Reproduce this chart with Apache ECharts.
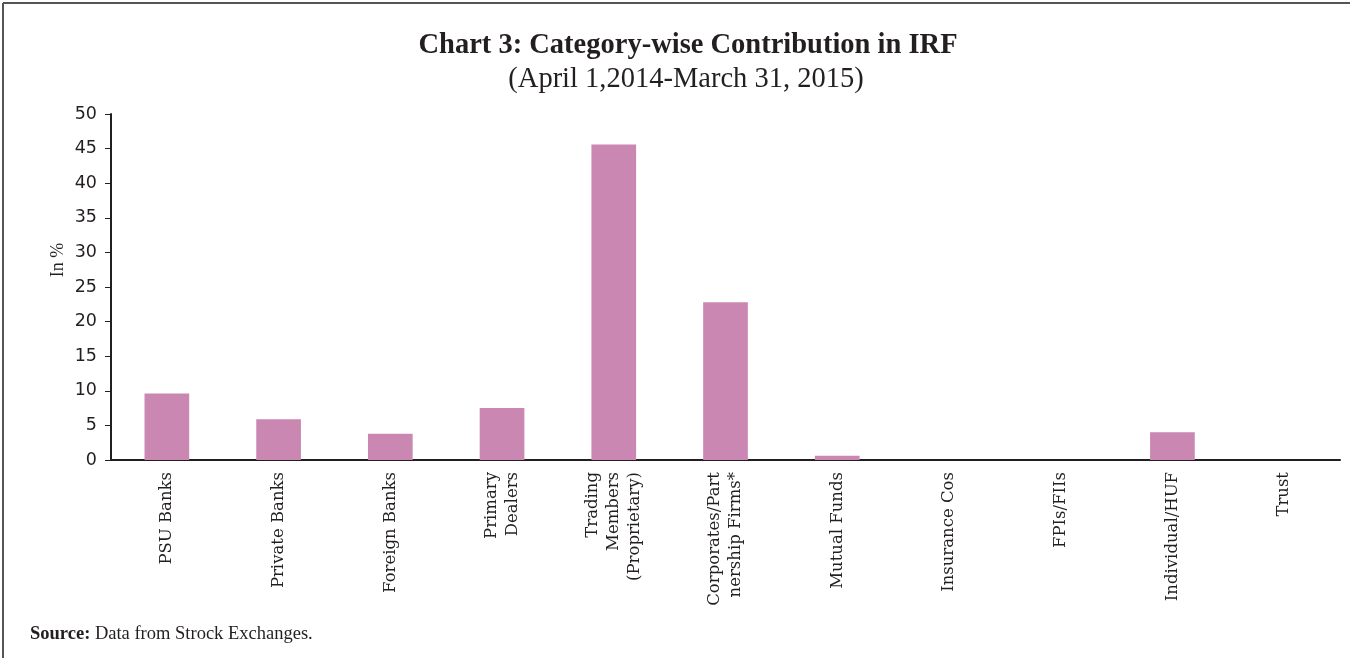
<!DOCTYPE html>
<html>
<head>
<meta charset="utf-8">
<title>Chart 3</title>
<script src="https://cdn.jsdelivr.net/npm/echarts@6/dist/echarts.min.js"></script>
<style>
  html, body { margin: 0; padding: 0; background: #fff; }
  #chart { width: 1350px; height: 658px; }
</style>
</head>
<body>
<div id="chart"></div>
<script>
// categories (line breaks as in the printed chart)
var categories = [
  'PSU Banks',
  'Private Banks',
  'Foreign Banks',
  'Primary\nDealers',
  'Trading\nMembers\n(Proprietary)',
  'Corporates/Part\nnership Firms*',
  'Mutual Funds',
  'Insurance Cos',
  'FPIs/FIIs',
  'Individual/HUF',
  'Trust'
];
// share in %
var shares = [9.6, 5.9, 3.8, 7.5, 45.6, 22.8, 0.6, 0, 0, 4.0, 0];
var yTicks = [0, 50, 5]; // min, max, step

var ink = '#231f20';
var serif = '"Liberation Serif", "DejaVu Serif", serif';
var wideSerif = '"DejaVu Serif", serif';

var myChart = echarts.init(document.getElementById('chart'));
var option = {
  animation: false,
  backgroundColor: '#fff',
  title: [{
    text: 'Chart 3: Category-wise Contribution in IRF',
    left: 683,
    textAlign: 'center',
    top: 26,
    textStyle: { fontFamily: serif, fontWeight: 'bold', fontSize: 28.5, color: ink }
  }, {
    text: '(April 1,2014-March 31, 2015)',
    left: 681,
    textAlign: 'center',
    top: 60,
    textStyle: { fontFamily: serif, fontWeight: 'normal', fontSize: 28.5, color: ink }
  }],
  graphic: [
    { type: 'line', shape: { x1: 3, y1: 3, x2: 1350, y2: 3 }, style: { stroke: '#555', lineWidth: 2 } },
    { type: 'line', shape: { x1: 3, y1: 3, x2: 3, y2: 658 }, style: { stroke: '#555', lineWidth: 2 } },
    {
      // y axis title, sits above the middle of the axis in the original
      type: 'text', x: 58, y: 260, rotation: Math.PI / 2,
      style: {
        text: 'In %', fontFamily: serif, fontSize: 18, fill: ink,
        align: 'center', verticalAlign: 'middle'
      }
    },
    {
      type: 'text', left: 30, top: 625,
      style: {
        text: '{b|Source:} Data from Strock Exchanges.',
        rich: {
          b: { fontFamily: serif, fontWeight: 'bold', fontSize: 18.5, fill: ink }
        },
        fontFamily: serif, fontSize: 18.5, fill: ink
      }
    }
  ],
  grid: { left: 111, right: 10, top: 114, bottom: 198, containLabel: false },
  xAxis: {
    type: 'category',
    data: categories,
    axisLine: { lineStyle: { color: ink, width: 2 } },
    axisTick: { length: 6, lineStyle: { color: ink, width: 1 } },
    axisLabel: {
      interval: 0,
      rotate: 90,
      margin: 12,
      fontFamily: wideSerif,
      fontSize: 16.5,
      lineHeight: 21,
      color: ink
    }
  },
  yAxis: {
    type: 'value',
    min: yTicks[0],
    max: yTicks[1],
    interval: yTicks[2],
    axisLine: { show: true, lineStyle: { color: ink, width: 2 } },
    axisTick: { show: true, length: 6, lineStyle: { color: ink, width: 1 } },
    axisLabel: { fontFamily: '"DejaVu Sans", sans-serif', fontSize: 17.5, color: ink, margin: 14 },
    splitLine: { show: false }
  },
  series: [{
    type: 'bar',
    data: shares,
    barWidth: '40%',
    itemStyle: { color: '#c987b1' }
  }]
};
myChart.setOption(option);
</script>
</body>
</html>
